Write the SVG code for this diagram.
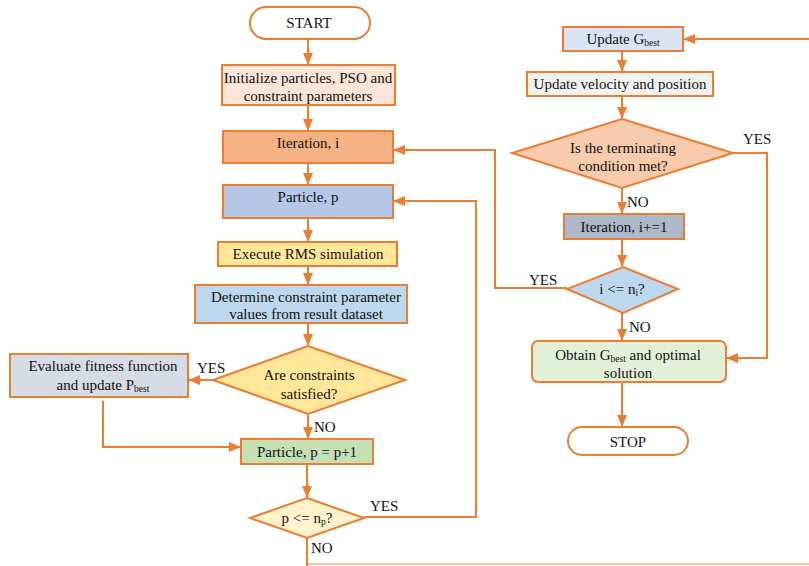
<svg xmlns="http://www.w3.org/2000/svg" width="809" height="566" viewBox="0 0 809 566">
<defs>
<marker id="ah" markerUnits="userSpaceOnUse" markerWidth="12" markerHeight="10" refX="11" refY="5" orient="auto">
<path d="M0,0 L12,5 L0,10 Z" fill="#ED7D31"/>
</marker>
<style>
.box{stroke:#ED7D31;stroke-width:2}
text{font-family:'Liberation Serif','Times New Roman',serif;font-size:15px;fill:#111}
.t{text-anchor:middle}
.c{fill:none;stroke:#ED7D31;stroke-width:2}
.s{font-size:9.5px}
</style>
</defs>
<rect width="809" height="566" fill="#fff"/>
<g id="connectors">
<path class="c" d="M308,39 V64" marker-end="url(#ah)"/>
<path class="c" d="M308,105 V130" marker-end="url(#ah)"/>
<path class="c" d="M308,163 V184" marker-end="url(#ah)"/>
<path class="c" d="M308,218 V241" marker-end="url(#ah)"/>
<path class="c" d="M308,266 V284" marker-end="url(#ah)"/>
<path class="c" d="M308,323 V345" marker-end="url(#ah)"/>
<path class="c" d="M213,380 H189" marker-end="url(#ah)"/>
<path class="c" d="M308,414 V438" marker-end="url(#ah)"/>
<path class="c" d="M103,401 V447 H240" marker-end="url(#ah)"/>
<path class="c" d="M307,464 V497" marker-end="url(#ah)"/>
<path class="c" d="M364,517 H476 V201 H394" marker-end="url(#ah)"/>
<path class="c" d="M307,538 V566"/>
<path class="c" d="M307,564 H809" stroke-opacity="0.45" stroke-width="1.5"/>
<path class="c" d="M809,39 H684" marker-end="url(#ah)"/>
<path class="c" d="M622,51 V71" marker-end="url(#ah)"/>
<path class="c" d="M622,96 V118" marker-end="url(#ah)"/>
<path class="c" d="M733,153 H767 V358 H727" marker-end="url(#ah)"/>
<path class="c" d="M622,188 V213" marker-end="url(#ah)"/>
<path class="c" d="M622,239 V266" marker-end="url(#ah)"/>
<path class="c" d="M567,288 H495 V150 H394" marker-end="url(#ah)"/>
<path class="c" d="M622,313 V340" marker-end="url(#ah)"/>
<path class="c" d="M622,382 V426" marker-end="url(#ah)"/>
<text x="197" y="373">YES</text>
<text x="314" y="432">NO</text>
<text x="370" y="511">YES</text>
<text x="311" y="553">NO</text>
<text x="743" y="144">YES</text>
<text x="627" y="207">NO</text>
<text x="529" y="285">YES</text>
<text x="629" y="332">NO</text>
</g>
<g id="start">
<rect class="box" x="250" y="7" width="120" height="32" rx="16" fill="#fff"/>
<text class="t" x="309" y="28">START</text>
</g>
<g id="init">
<rect class="box" x="222" y="65" width="173" height="40" fill="#FBE5D6"/>
<text class="t" x="308" y="83">Initialize particles, PSO and</text>
<text class="t" x="308" y="101">constraint parameters</text>
</g>
<g id="iteration">
<rect class="box" x="223" y="131" width="170" height="32" fill="#F4B183"/>
<text class="t" x="308" y="148">Iteration, i</text>
</g>
<g id="particle">
<rect class="box" x="223" y="185" width="170" height="33" fill="#B4C7E7"/>
<text class="t" x="308" y="202">Particle, p</text>
</g>
<g id="execute">
<rect class="box" x="218" y="242" width="179" height="24" fill="#FFE699"/>
<text class="t" x="308" y="259">Execute RMS simulation</text>
</g>
<g id="determine">
<rect class="box" x="195" y="285" width="212" height="38" fill="#BDD7EE"/>
<text class="t" x="306" y="302">Determine constraint parameter</text>
<text class="t" x="306" y="319">values from result dataset</text>
</g>
<g id="constraints">
<path class="box" d="M308,346 L405,380 L308,414 L213,380 Z" fill="#FFE699"/>
<text class="t" x="309" y="380">Are constraints</text>
<text class="t" x="309" y="399">satisfied?</text>
</g>
<g id="evaluate">
<rect class="box" x="10" y="354" width="178" height="43" fill="#D6DCE5"/>
<text class="t" x="103" y="371">Evaluate fitness function</text>
<text class="t" x="103" y="390">and update P<tspan class="s" dy="2">best</tspan></text>
</g>
<g id="particle-next">
<rect class="box" x="241" y="439" width="132" height="25" fill="#C5E0B4"/>
<text class="t" x="307" y="457">Particle, p = p+1</text>
</g>
<g id="p-check">
<path class="box" d="M307,498 L364,518 L307,538 L250,518 Z" fill="#FFF2CC"/>
<text class="t" x="307" y="523">p &lt;= n<tspan class="s" dy="2">p</tspan><tspan dy="-2">?</tspan></text>
</g>
<g id="update-gbest">
<rect class="box" x="563" y="27" width="120" height="24" fill="#DAE3F3"/>
<text class="t" x="623" y="44">Update G<tspan class="s" dy="2">best</tspan></text>
</g>
<g id="update-velocity">
<rect class="box" x="527" y="72" width="186" height="24" fill="#F2F2F2"/>
<text class="t" x="620" y="89">Update velocity and position</text>
</g>
<g id="terminating">
<path class="box" d="M622,119 L733,153 L622,188 L512,153 Z" fill="#F8CBAD"/>
<text class="t" x="623" y="153">Is the terminating</text>
<text class="t" x="623" y="171">condition met?</text>
</g>
<g id="iteration-next">
<rect class="box" x="564" y="214" width="120" height="25" fill="#ADB9CA"/>
<text class="t" x="624" y="232">Iteration, i+=1</text>
</g>
<g id="i-check">
<path class="box" d="M623,267 L678,289 L623,313 L567,289 Z" fill="#BDD7EE"/>
<text class="t" x="622" y="294">i &lt;= n<tspan class="s" dy="2">i</tspan><tspan dy="-2">?</tspan></text>
</g>
<g id="obtain">
<rect class="box" x="532" y="341" width="194" height="41" rx="6" fill="#E2F0D9"/>
<text class="t" x="628" y="360">Obtain G<tspan class="s" dy="2">best</tspan><tspan dy="-2"> and optimal</tspan></text>
<text class="t" x="628" y="378">solution</text>
</g>
<g id="stop">
<rect class="box" x="568" y="427" width="120" height="28" rx="14" fill="#fff"/>
<text class="t" x="628" y="447">STOP</text>
</g>
</svg>
